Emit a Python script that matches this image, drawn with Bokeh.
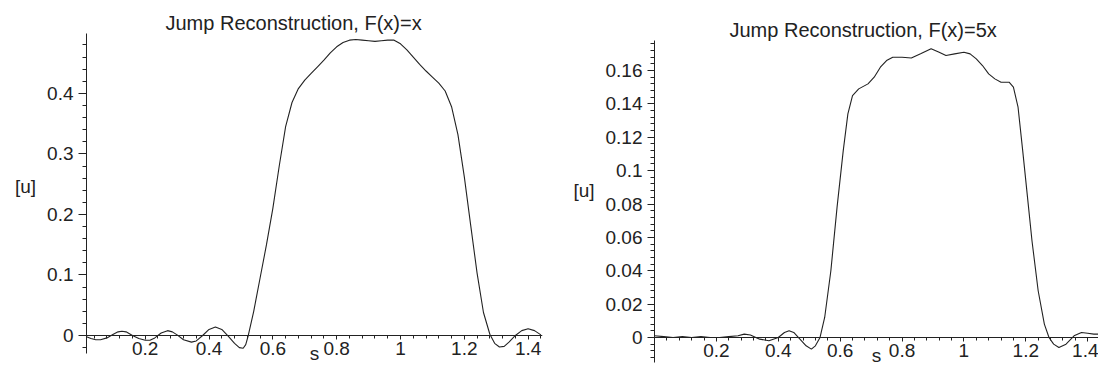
from bokeh.plotting import figure
from bokeh.models import Range1d, SingleIntervalTicker, CustomJSTickFormatter
from bokeh.layouts import row
from bokeh.embed import file_html
from bokeh.resources import INLINE

FONT = "Liberation Sans"
INK = "#222222"

titles = ["Jump Reconstruction, F(x)=x", "Jump Reconstruction, F(x)=5x"]
x_label = "s"
y_label = "[u]"

# Panel 1: F(x)=x
s_fx = [0.016, 0.03, 0.045, 0.06, 0.08, 0.10, 0.115, 0.127, 0.14, 0.16, 0.18, 0.20,
        0.215, 0.23, 0.25, 0.27, 0.285, 0.30, 0.32, 0.345, 0.36, 0.38, 0.40, 0.42,
        0.44, 0.46, 0.48, 0.495, 0.507, 0.515, 0.523, 0.54, 0.56, 0.58, 0.60, 0.62,
        0.64, 0.66, 0.68, 0.70, 0.72, 0.74, 0.76, 0.78, 0.80, 0.82, 0.84, 0.86,
        0.88, 0.90, 0.92, 0.94, 0.96, 0.98, 1.00, 1.02, 1.04, 1.06, 1.08, 1.10,
        1.12, 1.14, 1.16, 1.18, 1.20, 1.22, 1.24, 1.26, 1.28, 1.295, 1.31, 1.325,
        1.34, 1.36, 1.38, 1.40, 1.42, 1.44]
u_fx = [-0.002, -0.005, -0.007, -0.007, -0.004, 0.002, 0.006, 0.007, 0.006, 0.000, -0.005, -0.008,
        -0.008, -0.004, 0.004, 0.008, 0.006, 0.001, -0.007, -0.011, -0.009, 0.000, 0.010, 0.014,
        0.010, -0.001, -0.013, -0.020, -0.021, -0.015, 0.000, 0.040, 0.095, 0.150, 0.210, 0.280,
        0.345, 0.385, 0.408, 0.422, 0.433, 0.444, 0.455, 0.467, 0.477, 0.484, 0.488, 0.489,
        0.488, 0.487, 0.486, 0.487, 0.488, 0.488, 0.482, 0.472, 0.460, 0.448, 0.437, 0.427,
        0.417, 0.404, 0.378, 0.332, 0.262, 0.182, 0.103, 0.038, 0.002, -0.013, -0.019, -0.018,
        -0.011, 0.000, 0.008, 0.011, 0.008, 0.001]

# Panel 2: F(x)=5x
s_f5x = [0.0, 0.03, 0.06, 0.09, 0.12, 0.15, 0.18, 0.21, 0.24, 0.27, 0.29, 0.31,
         0.34, 0.37, 0.40, 0.42, 0.435, 0.45, 0.47, 0.49, 0.507, 0.52, 0.535, 0.55,
         0.57, 0.59, 0.61, 0.625, 0.64, 0.66, 0.69, 0.71, 0.73, 0.75, 0.77, 0.80,
         0.83, 0.86, 0.894, 0.92, 0.942, 0.97, 1.00, 1.02, 1.04, 1.06, 1.08, 1.10,
         1.12, 1.146, 1.16, 1.175, 1.19, 1.205, 1.22, 1.24, 1.26, 1.275, 1.29, 1.307,
         1.33, 1.356, 1.38, 1.40, 1.42, 1.435]
u_f5x = [0.001, 0.0005, 0.0, 0.0005, 0.0, 0.0005, 0.0, 0.0, 0.0005, 0.001, 0.002, 0.0015,
         -0.001, -0.002, 0.0, 0.003, 0.004, 0.003, -0.001, -0.005, -0.007, -0.005, 0.0, 0.012,
         0.040, 0.078, 0.112, 0.134, 0.145, 0.149, 0.152, 0.156, 0.162, 0.166, 0.168, 0.168,
         0.1675, 0.170, 0.173, 0.171, 0.169, 0.170, 0.171, 0.170, 0.167, 0.163, 0.158, 0.155,
         0.153, 0.153, 0.150, 0.138, 0.112, 0.085, 0.058, 0.028, 0.008, 0.0, -0.004, -0.006,
         -0.004, 0.001, 0.003, 0.0025, 0.002, 0.002]

Y_FMT = "return String(Math.round(tick * 1e6) / 1e6);"
X_FMT = "const v = Math.round(tick * 1e6) / 1e6; return v === 0 ? '' : String(v);"


def panel(title, s, u, width, height, borders, xr, yr, ybounds, y_major, y_tick_out, title_offset):
    left, right, top, bottom = borders
    p = figure(width=width, height=height, output_backend="svg", toolbar_location=None,
               x_range=Range1d(*xr), y_range=Range1d(*yr),
               min_border_left=left, min_border_right=right,
               min_border_top=top, min_border_bottom=bottom)
    p.frame_align = False
    p.title.text = title
    p.title.text_font = FONT
    p.title.text_font_size = "20px"
    p.title.text_font_style = "normal"
    p.title.text_color = INK
    p.title.align = "left"
    p.title.offset = title_offset
    p.title.standoff = 0
    p.outline_line_color = None
    p.grid.visible = False
    p.background_fill_color = "white"
    p.border_fill_color = "white"

    p.line(s, u, line_color=INK, line_width=1.1)

    xa = p.xaxis[0]
    xa.fixed_location = 0
    xa.ticker = SingleIntervalTicker(interval=0.2, num_minor_ticks=5)
    xa.formatter = CustomJSTickFormatter(code=X_FMT)
    xa.axis_label = x_label
    ya = p.yaxis[0]
    ya.bounds = ybounds
    ya.ticker = SingleIntervalTicker(interval=y_major, num_minor_ticks=5)
    ya.formatter = CustomJSTickFormatter(code=Y_FMT)
    # trailing empty line lifts the horizontal label to the axis' visual middle
    ya.axis_label = y_label + "\n"
    ya.axis_label_orientation = "horizontal"

    for ax in (xa, ya):
        ax.axis_line_color = INK
        ax.major_tick_line_color = INK
        ax.minor_tick_line_color = INK
        ax.major_tick_in = 0
        ax.minor_tick_in = 0
        ax.major_label_text_font = FONT
        ax.major_label_text_font_size = "19px"
        ax.major_label_text_color = INK
        ax.axis_label_text_font = FONT
        ax.axis_label_text_font_size = "19px"
        ax.axis_label_text_font_style = "normal"
        ax.axis_label_text_color = INK
    xa.major_tick_out = 4
    xa.minor_tick_out = 3
    xa.major_label_standoff = 3
    xa.axis_label_standoff = -16
    ya.major_tick_out = y_tick_out
    ya.minor_tick_out = 4
    ya.major_label_standoff = 5
    ya.axis_label_standoff = 8
    return p


p1 = panel(titles[0], s_fx, u_fx, 570, 373, (86, 28, 33, 8),
           (0.016, 1.445), (-0.0496, 0.499), (-0.03, 0.499), 0.1, 8, 79)
p2 = panel(titles[1], s_f5x, u_f5x, 528, 373, (83, 0, 40, 7),
           (0.0, 1.435), (-0.0174, 0.178), (-0.015, 0.178), 0.02, 7, 75)

layout = row(p1, p2)
open("out.html", "w").write(file_html(layout, INLINE))
